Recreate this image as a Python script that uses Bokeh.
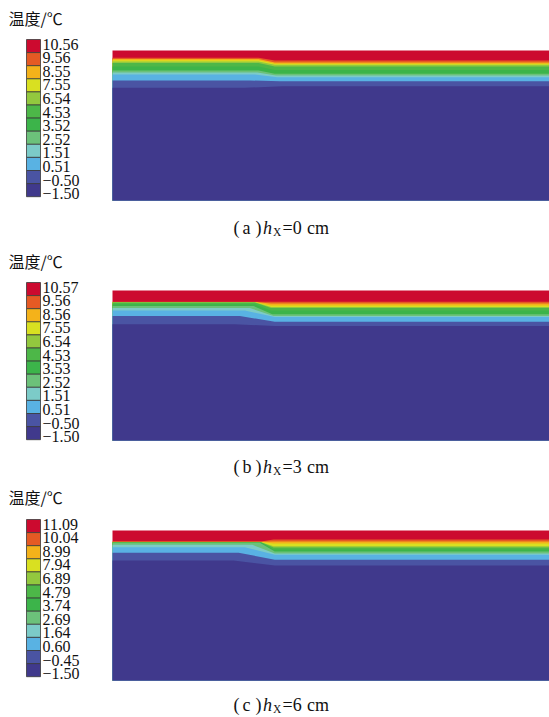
from bokeh.plotting import figure
from bokeh.models import Range1d
from bokeh.core.properties import value
from bokeh.embed import file_html
from bokeh.resources import INLINE

# ---------------- data ----------------
band_colors = ["#cc0a2f", "#e55a24", "#f4b21a", "#d9e021", "#93c83e", "#4db748",
               "#3cb44a", "#6cc17a", "#7ccbc8", "#59b2e3", "#4a54a3", "#40398c"]

labels_a = ["10.56", "9.56", "8.55", "7.55", "6.54", "4.53", "3.52", "2.52", "1.51", "0.51", "−0.50", "−1.50"]
labels_b = ["10.57", "9.56", "8.56", "7.55", "6.54", "4.53", "3.53", "2.52", "1.51", "0.51", "−0.50", "−1.50"]
labels_c = ["11.09", "10.04", "8.99", "7.94", "6.89", "4.79", "3.74", "2.69", "1.64", "0.60", "−0.45", "−1.50"]

captions = ["a", "b", "c"]
hx_values = ["0", "3", "6"]

# isotherm depths (m) below the surface for the 11 inner contour levels,
# on the left part and on the right part of the section, and where they bend (m)
iso_left_a = [0.58, 0.68, 0.78, 0.88, 1.00, 1.28, 1.60, 1.76, 1.92, 2.40, 2.98]
iso_right_a = [0.80, 0.96, 1.06, 1.14, 1.28, 1.56, 1.86, 2.00, 2.14, 2.46, 2.86]
bend_start_a = [11.7, 11.7, 11.7, 11.7, 11.7, 11.7, 11.7, 11.6, 11.4, 11.0, 10.6]
bend_end_a = [13.0, 13.0, 13.0, 13.0, 13.0, 13.0, 13.0, 13.1, 13.2, 13.4, 13.6]

iso_left_b = [0.90, 0.91, 0.92, 0.93, 0.95, 1.10, 1.24, 1.40, 1.60, 2.04, 2.70]
iso_right_b = [0.90, 1.04, 1.20, 1.32, 1.40, 1.60, 1.90, 2.04, 2.12, 2.50, 2.84]
bend_start_b = [11.4, 11.4, 11.4, 11.4, 11.4, 11.4, 11.3, 11.0, 10.6, 10.2, 9.8]
bend_end_b = [12.7, 12.7, 12.7, 12.7, 12.7, 12.7, 12.8, 12.9, 13.0, 13.0, 13.0]

iso_left_c = [0.88, 0.90, 0.91, 0.93, 0.94, 0.96, 0.98, 1.14, 1.34, 1.78, 2.40]
iso_right_c = [0.72, 0.88, 1.04, 1.26, 1.36, 1.52, 1.68, 1.84, 1.94, 2.34, 2.80]
bend_start_c = [11.9, 11.9, 11.9, 11.9, 11.9, 11.9, 11.8, 11.2, 10.6, 10.1, 9.7]
bend_end_c = [12.9, 12.9, 12.9, 12.9, 12.9, 12.9, 13.0, 13.0, 13.0, 13.0, 13.0]

SECTION_WIDTH = 35.0   # m
SECTION_DEPTH = 12.0   # m

# ---------------- layout (page pixels) ----------------
W, H = 549, 717
SEC_LEFT, SEC_RIGHT = 112, 549
SEC_H = 150
panels = [
    # labels, left, right, bend start, bend end, title y, bar top, section top, caption y
    (labels_a, iso_left_a, iso_right_a, bend_start_a, bend_end_a, 17, 39, 50, 227),
    (labels_b, iso_left_b, iso_right_b, bend_start_b, bend_end_b, 260, 282, 290, 466),
    (labels_c, iso_left_c, iso_right_c, bend_start_c, bend_end_c, 496, 519, 530, 704),
]

SERIF = value("Liberation Serif")
CJK = value("Noto Sans CJK SC")
INK = "#111111"

p = figure(width=W, height=H, output_backend="svg", toolbar_location=None,
           x_axis_location=None, y_axis_location=None,
           x_range=Range1d(0, W), y_range=Range1d(H, 0),
           min_border=0, min_border_left=0, min_border_right=0,
           min_border_top=0, min_border_bottom=0,
           outline_line_color=None, background_fill_color="white",
           border_fill_color="white")
p.grid.visible = False

# horizontal metres range: 0 m at SEC_LEFT px, SECTION_WIDTH m at SEC_RIGHT px
mpp_x = SECTION_WIDTH / (SEC_RIGHT - SEC_LEFT)
p.extra_x_ranges = {"sec": Range1d(-SEC_LEFT * mpp_x, (W - SEC_LEFT) * mpp_x)}
mpp_y = SECTION_DEPTH / SEC_H

BAR_L, BAR_R = 26, 40
BH = 13.1
n = len(band_colors)

for k, (labs, L, R, bs, be, ty, bt, st, cy) in enumerate(panels):
    # ---- section contour field ----
    yname = "sec%d" % k
    p.extra_y_ranges[yname] = Range1d((H - st) * mpp_y, -st * mpp_y)
    xs = [[0, SECTION_WIDTH, SECTION_WIDTH, 0]]
    ys = [[0, 0, SECTION_DEPTH, SECTION_DEPTH]]
    cols = [band_colors[0]]
    for j in range(len(L)):
        xs.append([0, bs[j], be[j], SECTION_WIDTH, SECTION_WIDTH, 0])
        ys.append([L[j], L[j], R[j], R[j], SECTION_DEPTH, SECTION_DEPTH])
        cols.append(band_colors[j + 1])
    p.patches(xs, ys, fill_color=cols, line_color=None,
              x_range_name="sec", y_range_name=yname)

    # ---- legend ----
    tops = [bt + i * BH for i in range(n)]
    bots = [t + BH for t in tops]
    p.quad(left=BAR_L, right=BAR_R, top=tops, bottom=bots, fill_color=band_colors,
           line_color="#3a3a3a", line_width=0.8)
    first = bt + 4.5
    last = bt + n * BH - 3
    step = (last - first) / (len(labs) - 1)
    ly = [first + i * step for i in range(len(labs))]
    p.text(x=[42] * len(labs), y=ly, text=labs, text_font=SERIF,
           text_font_size="16px", text_baseline="middle", text_align="left",
           text_color=INK)
    p.text(x=[8], y=[ty], text=["温度/℃"], text_font=CJK,
           text_font_size="16px", text_baseline="middle", text_align="left",
           text_color=INK)

    # ---- caption ----
    p.text(x=[233, 242, 255], y=[cy] * 3, text=["(", captions[k], ")"],
           text_font=SERIF, text_font_size="18px", text_baseline="middle",
           text_color=INK)
    p.text(x=[262.5], y=[cy], text=["h"], text_font=SERIF, text_font_style="italic",
           text_font_size="18px", text_baseline="middle", text_color=INK)
    p.text(x=[272.5], y=[cy + 4], text=["X"], text_font=SERIF,
           text_font_size="11.5px", text_baseline="middle", text_color=INK)
    p.text(x=[282, 306.5], y=[cy] * 2, text=["=" + hx_values[k], "cm"], text_font=SERIF,
           text_font_size="18px", text_baseline="middle", text_color=INK)

open("out.html", "w").write(file_html(p, INLINE))
